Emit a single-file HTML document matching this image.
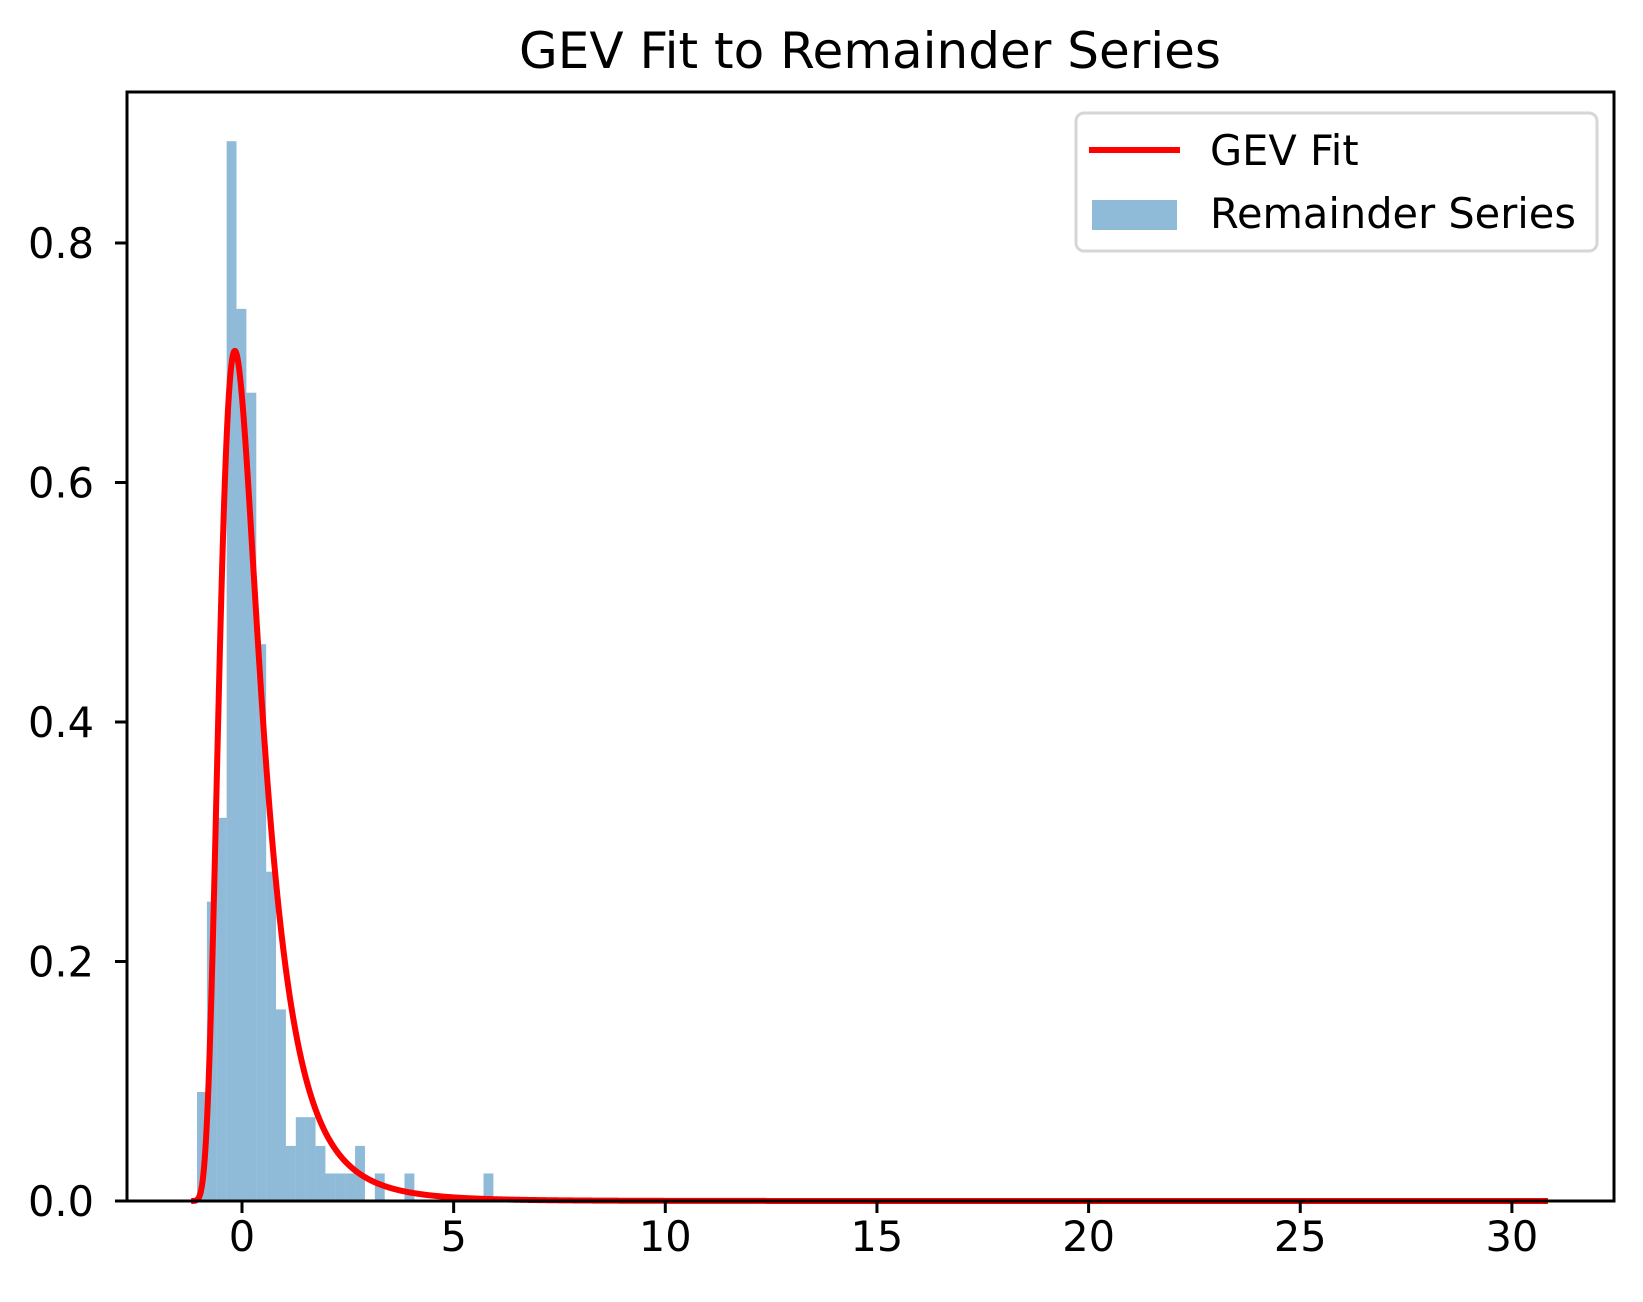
<!DOCTYPE html>
<html><head><meta charset="utf-8"><style>
html,body{margin:0;padding:0;background:#fff;}
svg{display:block;font-family:"DejaVu Sans","Liberation Sans",sans-serif;}
</style></head><body>
<svg id="chart" width="1643" height="1302" viewBox="0 0 1643 1302">
<rect x="0" y="0" width="1643" height="1302" fill="#fff"/>
<text x="870" y="68" font-size="50" text-anchor="middle" fill="#000">GEV Fit to Remainder Series</text>
<g id="bars"></g>
<g id="curve"></g>
<g id="axes"></g>
<g>
<rect x="1076" y="113" width="521" height="138" rx="8" fill="#fff" fill-opacity="0.8" stroke="#d6d6d6" stroke-width="3"/>
<line x1="1089" y1="150" x2="1180" y2="150" stroke="#ff0000" stroke-width="6"/>
<text x="1210" y="165" font-size="41.5" fill="#000">GEV Fit</text>
<rect x="1092" y="200" width="85" height="30" fill="#1f77b4" fill-opacity="0.5"/>
<text x="1210" y="228" font-size="41.5" fill="#000">Remainder Series</text>
</g>
</svg>
<script>
// Histogram data
const binStart = -1.063;
const binWidth = 0.2334;
const densities = [0.091,0.25,0.32,0.885,0.745,0.675,0.465,0.275,0.16,0.046,0.07,0.07,0.046,0.023,0.023,0.023,0.046,0,0.023,0,0,0.023,0,0,0,0,0,0,0,0.023];
// GEV fit parameters [shape xi, loc, scale] and curve range
const gevParams = [0.2, -0.075, 0.528];
const curveRange = [-1.2, 30.85];
const xTicks = [0,5,10,15,20,25,30];
const yTicks = [0.0,0.2,0.4,0.6,0.8];
const yTickLabels = ["0.0","0.2","0.4","0.6","0.8"];

const L=127,R=1614,T=92,B=1201;
function sx(v){return 242+v*42.33;}
function sy(v){return B-v*1197.5;}
const NS="http://www.w3.org/2000/svg";
function mk(tag,attrs,parent){const e=document.createElementNS(NS,tag);for(const k in attrs)e.setAttribute(k,attrs[k]);parent.appendChild(e);return e;}

const bars=document.getElementById('bars');
densities.forEach((d,i)=>{
  if(d<=0)return;
  const x0=sx(binStart+i*binWidth), x1=sx(binStart+(i+1)*binWidth);
  const r=mk('rect',{x:x0,y:sy(d),width:x1-x0,height:B-sy(d),fill:'#1f77b4','fill-opacity':0.5},bars);
  
  
});

function gevPdf(x){
  const xi=gevParams[0],loc=gevParams[1],sc=gevParams[2];
  const z=(x-loc)/sc, s=1+xi*z;
  if(s<=0)return 0;
  const t=Math.pow(s,-1/xi);
  return Math.pow(t,1+xi)*Math.exp(-t)/sc;
}
let pts=[];
const n=2000;
for(let i=0;i<=n;i++){const x=curveRange[0]+(curveRange[1]-curveRange[0])*i/n;pts.push(sx(x).toFixed(2)+','+sy(gevPdf(x)).toFixed(2));}
const curve=mk('polyline',{points:pts.join(' '),fill:'none',stroke:'#ff0000','stroke-width':6,'stroke-linejoin':'round'},document.getElementById('curve'));



const axes=document.getElementById('axes');
const frame=mk('rect',{x:L,y:T,width:R-L,height:B-T,fill:'none',stroke:'#000','stroke-width':3},axes);


xTicks.forEach(v=>{
  const tk=mk('line',{x1:sx(v),y1:B,x2:sx(v),y2:B+12,stroke:'#000','stroke-width':3},axes);
  
  
  const t=mk('text',{x:sx(v),y:B+50,'font-size':41.5,'text-anchor':'middle',fill:'#000'},axes);
  t.textContent=String(v);
  
  
});
yTicks.forEach((v,i)=>{
  const tk=mk('line',{x1:L-12,y1:sy(v),x2:L,y2:sy(v),stroke:'#000','stroke-width':3},axes);
  
  
  const t=mk('text',{x:L-33,y:sy(v)+15,'font-size':41.5,'text-anchor':'end',fill:'#000'},axes);
  t.textContent=yTickLabels[i];
  
  
});
</script>
</body></html>
